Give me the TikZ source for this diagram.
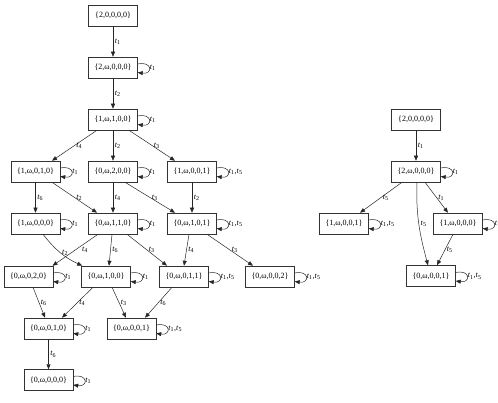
\documentclass[tikz,border=0pt]{standalone}
\usepackage{fontspec}
\setmainfont{Liberation Serif}
\usetikzlibrary{arrows.meta}
\newcommand{\trn}[1]{\textit{t}\textsubscript{#1}}
\tikzset{
  mark box/.style={draw=black!80, line width=0.5pt, minimum width=49pt, minimum height=21pt, inner sep=0pt, font=\fontsize{8}{9}\selectfont},
  arc/.style={draw=black!85, line width=0.5pt, -{Triangle[length=5pt,width=4pt]}},
  lbl/.style={font=\fontsize{8}{9}\selectfont, inner sep=1.5pt},
  selfloop/.style={out=12, in=-8, looseness=4.6}
}
\begin{document}
\begin{tikzpicture}[x=1pt,y=-1pt]
\useasboundingbox (0,0) rectangle (498,403);
% left graph
\node[mark box] (m20000) at (113,15.5) {\{2,0,0,0,0\}};
\node[mark box] (m2w000) at (113,67.5) {\{2,ω,0,0,0\}};
\node[mark box] (m1w100) at (113,119.5) {\{1,ω,1,0,0\}};
\node[mark box] (m1w010) at (35.5,171.5) {\{1,ω,0,1,0\}};
\node[mark box] (m0w200) at (113,171.5) {\{0,ω,2,0,0\}};
\node[mark box] (m1w001) at (192,171.5) {\{1,ω,0,0,1\}};
\node[mark box] (m1w000) at (35.5,223.5) {\{1,ω,0,0,0\}};
\node[mark box] (m0w110) at (113,223.5) {\{0,ω,1,1,0\}};
\node[mark box] (m0w101) at (192,223.5) {\{0,ω,1,0,1\}};
\node[mark box] (m0w020) at (28.5,276.5) {\{0,ω,0,2,0\}};
\node[mark box] (m0w100) at (106,276.5) {\{0,ω,1,0,0\}};
\node[mark box] (m0w011) at (184,276.5) {\{0,ω,0,1,1\}};
\node[mark box] (m0w002) at (270,276.5) {\{0,ω,0,0,2\}};
\node[mark box] (m0w010) at (48.5,328.5) {\{0,ω,0,1,0\}};
\node[mark box] (m0w001) at (131.5,328.5) {\{0,ω,0,0,1\}};
\node[mark box] (m0w000) at (48.5,380) {\{0,ω,0,0,0\}};
% right graph
\node[mark box] (c20000) at (416,119.5) {\{2,0,0,0,0\}};
\node[mark box] (c2w000) at (416,171.5) {\{2,ω,0,0,0\}};
\node[mark box] (c1w001) at (344,223.5) {\{1,ω,0,0,1\}};
\node[mark box] (c1w000) at (458,223.5) {\{1,ω,0,0,0\}};
\node[mark box] (c0w001) at (431,276) {\{0,ω,0,0,1\}};

\draw[arc] (m20000.south) -- node[lbl,right] {\trn{1}} (m2w000.north);
\draw[arc] (m2w000.south) -- node[lbl,right] {\trn{2}} (m1w100.north);
\draw[arc] ([xshift=-16pt]m1w100.south) -- node[lbl,right] {\trn{4}} ([xshift=16.5pt]m1w010.north);
\draw[arc] (m1w100.south) -- node[lbl,right] {\trn{2}} (m0w200.north);
\draw[arc] ([xshift=16pt]m1w100.south) -- node[lbl,right] {\trn{3}} ([xshift=-17pt]m1w001.north);
\draw[arc] (m1w010.south) -- node[lbl,right] {\trn{6}} (m1w000.north);
\draw[arc] ([xshift=16.5pt]m1w010.south) -- node[lbl,right] {\trn{2}} ([xshift=-16pt]m0w110.north);
\draw[arc] (m0w200.south) -- node[lbl,right] {\trn{4}} (m0w110.north);
\draw[arc] ([xshift=12pt]m0w200.south) -- node[lbl,right] {\trn{3}} ([xshift=-17pt]m0w101.north);
\draw[arc] (m1w001.south) -- node[lbl,right] {\trn{2}} (m0w101.north);
\draw[arc] ([xshift=7.5pt]m1w000.south) to[out=-52,in=155] node[lbl,right] {\trn{2}} ([xshift=1pt]m0w100.north west);
\draw[arc] ([xshift=-15pt]m0w110.south) -- node[lbl,right,xshift=5pt] {\trn{4}} ([xshift=24pt]m0w020.north);
\draw[arc] ([xshift=-1pt]m0w110.south) -- node[lbl,right] {\trn{6}} ([xshift=3pt]m0w100.north);
\draw[arc] ([xshift=14pt]m0w110.south) -- node[lbl,right] {\trn{3}} ([xshift=-17pt]m0w011.north);
\draw[arc] ([xshift=-3pt]m0w101.south) -- node[lbl,right] {\trn{4}} (m0w011.north);
\draw[arc] ([xshift=15pt]m0w101.south) -- node[lbl,right] {\trn{3}} ([xshift=-17pt]m0w002.north);
\draw[arc] ([xshift=4.5pt]m0w020.south) -- node[lbl,right] {\trn{6}} ([xshift=-3.5pt]m0w010.north);
\draw[arc] ([xshift=-13pt]m0w100.south) -- node[lbl,right] {\trn{4}} ([xshift=13.5pt]m0w010.north);
\draw[arc] ([xshift=6pt]m0w100.south) -- node[lbl,right] {\trn{3}} ([xshift=-5.5pt]m0w001.north);
\draw[arc] ([xshift=-12pt]m0w011.south) -- node[lbl,right] {\trn{6}} ([xshift=13.5pt]m0w001.north);
\draw[arc] (m0w010.south) -- node[lbl,right] {\trn{6}} (m0w000.north);

\draw[arc] (c20000.south) -- node[lbl,right] {\trn{1}} (c2w000.north);
\draw[arc] ([xshift=-14pt]c2w000.south) -- node[lbl,right] {\trn{5}} ([xshift=16pt]c1w001.north);
\draw[arc] ([xshift=1pt]c2w000.south) to[out=-92,in=105] node[lbl,right] {\trn{5}} ([xshift=-3pt]c0w001.north);
\draw[arc] ([xshift=9pt]c2w000.south) -- node[lbl,right] {\trn{1}} ([xshift=-10pt]c1w000.north);
\draw[arc] ([xshift=-5pt]c1w000.south) -- node[lbl,right] {\trn{5}} ([xshift=6pt]c0w001.north);

% self loops
\foreach \m in {m2w000,m1w100,m1w010,m0w200,m1w000,m0w110,m0w020,m0w100,m0w010,m0w000,c2w000,c1w000}
  \draw[arc] ([yshift=3.5pt]\m.east) to[selfloop] node[lbl,right,inner sep=0.5pt] {\trn{1}} ([yshift=-5pt]\m.east);
\foreach \m in {m1w001,m0w101,m0w011,m0w001,m0w002,c1w001,c0w001}
  \draw[arc] ([yshift=3.5pt]\m.east) to[selfloop] node[lbl,right,inner sep=0.5pt] {\trn{1},\trn{5}} ([yshift=-5pt]\m.east);
\end{tikzpicture}
\end{document}
